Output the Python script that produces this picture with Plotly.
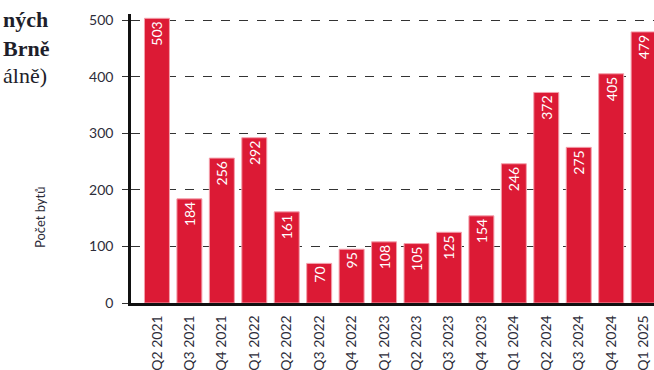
import plotly.graph_objects as go

categories = ["Q2 2021", "Q3 2021", "Q4 2021", "Q1 2022", "Q2 2022", "Q3 2022",
              "Q4 2022", "Q1 2023", "Q2 2023", "Q3 2023", "Q4 2023", "Q1 2024",
              "Q2 2024", "Q3 2024", "Q4 2024", "Q1 2025"]
values = [503, 184, 256, 292, 161, 70, 95, 108, 105, 125, 154, 246, 372, 275, 405, 479]
y_ticks = [0, 100, 200, 300, 400, 500]
y_title = "Počet bytů"
title_fragments = ["ných", "Brně", "álně)"]

W, H = 654, 370
L, R, T, B = 131, 0, 14, 67
pw = W - L - R
ph = H - T - B

fig = go.Figure(go.Bar(
    x=list(range(len(categories))), y=values,
    text=[str(v) for v in values],
    textposition="inside", insidetextanchor="end", textangle=-90,
    insidetextfont=dict(family="Lato", size=14, color="white"),
    constraintext="none",
    marker=dict(color="#DC1A35", line=dict(color="#F4A0AC", width=1)),
    width=0.77,
    cliponaxis=True,
))

axis_font = dict(family="Lato", size=14, color="#2d2d3a")
fig.update_layout(
    width=W, height=H,
    margin=dict(l=L, r=R, t=T, b=B, autoexpand=False),
    paper_bgcolor="white", plot_bgcolor="white",
    showlegend=False,
    xaxis=dict(
        range=[-0.8, 15.32], automargin=False,
        tickmode="array", tickvals=list(range(len(categories))), ticktext=categories,
        tickangle=-90, tickfont=axis_font, showgrid=False, zeroline=False,
        showline=True, linecolor="#111111", linewidth=2.5, ticks="",
        ticklabelstandoff=4,
    ),
    yaxis=dict(
        range=[0, 510.6], automargin=False, tickmode="array", tickvals=y_ticks,
        tickfont=axis_font, showgrid=True, gridcolor="#333333", gridwidth=1,
        griddash="dash", zeroline=False, showline=True, linecolor="#111111",
        linewidth=2.5, ticks="outside", ticklen=6, tickcolor="#333333",
        tickwidth=1, ticklabelstandoff=6,
    ),
)

# y-axis title as an annotation (placed lower than axis middle, as in the reference)
fig.add_annotation(
    xref="paper", yref="paper",
    x=(40 - L) / pw, y=(H - B - 218) / ph,
    text=y_title, textangle=-90, showarrow=False,
    font=dict(family="Lato", size=13, color="#2d2d3a"),
    xanchor="center", yanchor="middle",
)

# visible fragments of the cropped title
title_y = [20, 48, 76]
for i, (frag, yy) in enumerate(zip(title_fragments, title_y)):
    txt = f"<b>{frag}</b>" if i < 2 else frag
    fig.add_annotation(
        xref="paper", yref="paper",
        x=(1 - L) / pw, y=(H - B - yy) / ph,
        text=txt, showarrow=False,
        font=dict(family="Liberation Serif, DejaVu Serif, serif", size=22, color="#1e1e2a"),
        xanchor="left", yanchor="middle",
    )

fig.write_html(
    "out.html",
    config={"displayModeBar": False},
    post_script="document.body.style.margin='0';document.body.style.padding='0';document.body.style.overflow='hidden';",
)
